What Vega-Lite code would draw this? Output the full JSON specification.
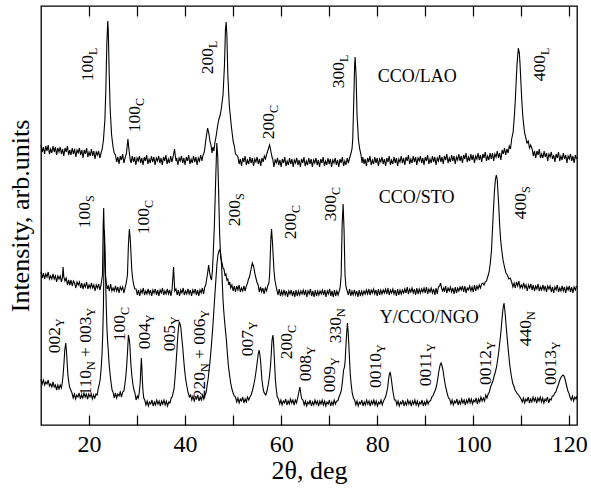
{
"$schema":"https://vega.github.io/schema/vega-lite/v6.json",
"width":536,"height":419,
"autosize":{"type":"none"},
"padding":{"left":41,"top":6,"right":14,"bottom":64},
"config":{"view":{"stroke":"black","strokeWidth":1.3},"font":"Liberation Serif"},
"datasets":{
"a":[{"x":10,"y":280},{"x":10.25,"y":273},{"x":10.5,"y":278},{"x":10.75,"y":271},{"x":11,"y":279},{"x":11.25,"y":274},{"x":11.5,"y":280},{"x":11.75,"y":271},{"x":12,"y":276},{"x":12.25,"y":272},{"x":12.5,"y":279},{"x":12.75,"y":273},{"x":13,"y":278},{"x":13.25,"y":270},{"x":13.5,"y":277},{"x":13.75,"y":273},{"x":14,"y":278},{"x":14.25,"y":271},{"x":14.5,"y":276},{"x":14.75,"y":269},{"x":15,"y":277},{"x":15.25,"y":273},{"x":15.5,"y":279},{"x":15.75,"y":270},{"x":16,"y":275},{"x":16.25,"y":270},{"x":16.5,"y":277},{"x":16.75,"y":271},{"x":17,"y":276},{"x":17.25,"y":268},{"x":17.5,"y":275},{"x":17.75,"y":272},{"x":18,"y":277},{"x":18.25,"y":270},{"x":18.5,"y":275},{"x":18.75,"y":267},{"x":19,"y":275},{"x":19.25,"y":271},{"x":19.5,"y":277},{"x":19.75,"y":268},{"x":20,"y":273},{"x":20.25,"y":269},{"x":20.5,"y":276},{"x":20.75,"y":269},{"x":21,"y":274},{"x":21.25,"y":266},{"x":21.5,"y":273},{"x":21.75,"y":270},{"x":22,"y":274},{"x":22.25,"y":267},{"x":22.5,"y":272},{"x":22.75,"y":276},{"x":23,"y":285},{"x":23.3,"y":305},{"x":23.5,"y":335},{"x":23.7,"y":380},{"x":23.9,"y":404},{"x":24,"y":396},{"x":24.2,"y":352},{"x":24.4,"y":316},{"x":24.7,"y":290},{"x":25,"y":278},{"x":25.25,"y":272},{"x":25.5,"y":270},{"x":25.75,"y":263},{"x":26,"y":268},{"x":26.25,"y":261},{"x":26.5,"y":269},{"x":26.75,"y":265},{"x":27,"y":271},{"x":27.25,"y":262},{"x":27.5,"y":267},{"x":27.8,"y":272},{"x":28.1,"y":286},{"x":28.3,"y":276},{"x":28.55,"y":266},{"x":28.75,"y":262},{"x":29,"y":269},{"x":29.25,"y":263},{"x":29.5,"y":268},{"x":29.75,"y":260},{"x":30,"y":267},{"x":30.25,"y":264},{"x":30.5,"y":269},{"x":30.75,"y":262},{"x":31,"y":267},{"x":31.25,"y":260},{"x":31.5,"y":268},{"x":31.75,"y":264},{"x":32,"y":270},{"x":32.25,"y":261},{"x":32.5,"y":266},{"x":32.75,"y":262},{"x":33,"y":269},{"x":33.25,"y":263},{"x":33.5,"y":268},{"x":33.75,"y":260},{"x":34,"y":267},{"x":34.25,"y":264},{"x":34.5,"y":269},{"x":34.75,"y":262},{"x":35,"y":267},{"x":35.25,"y":260},{"x":35.5,"y":268},{"x":35.75,"y":264},{"x":36,"y":270},{"x":36.25,"y":261},{"x":36.5,"y":266},{"x":36.75,"y":262},{"x":37,"y":269},{"x":37.25,"y":263},{"x":37.5,"y":268},{"x":37.8,"y":276},{"x":38.1,"y":264},{"x":38.25,"y":267},{"x":38.5,"y":260},{"x":38.75,"y":267},{"x":39,"y":264},{"x":39.25,"y":269},{"x":39.5,"y":262},{"x":39.75,"y":267},{"x":40,"y":260},{"x":40.25,"y":268},{"x":40.5,"y":264},{"x":40.75,"y":270},{"x":41,"y":261},{"x":41.25,"y":266},{"x":41.5,"y":262},{"x":41.75,"y":269},{"x":42,"y":263},{"x":42.25,"y":268},{"x":42.5,"y":260},{"x":42.75,"y":267},{"x":43,"y":264},{"x":43.25,"y":270},{"x":43.5,"y":264},{"x":43.75,"y":270},{"x":44,"y":273},{"x":44.4,"y":288},{"x":44.7,"y":297},{"x":45,"y":290},{"x":45.2,"y":283},{"x":45.4,"y":280},{"x":45.6,"y":272},{"x":45.8,"y":278},{"x":46,"y":274},{"x":46.2,"y":282},{"x":46.5,"y":290},{"x":46.8,"y":300},{"x":47,"y":305},{"x":47.3,"y":310},{"x":47.5,"y":315},{"x":47.9,"y":330},{"x":48.2,"y":360},{"x":48.4,"y":395},{"x":48.55,"y":403},{"x":48.7,"y":390},{"x":48.9,"y":350},{"x":49.2,"y":320},{"x":49.6,"y":300},{"x":50,"y":284},{"x":50.25,"y":279},{"x":50.5,"y":271},{"x":50.75,"y":270},{"x":51,"y":268},{"x":51.25,"y":261},{"x":51.5,"y":266},{"x":51.75,"y":259},{"x":52,"y":267},{"x":52.25,"y":263},{"x":52.5,"y":269},{"x":52.75,"y":260},{"x":53,"y":265},{"x":53.25,"y":261},{"x":53.5,"y":268},{"x":53.75,"y":262},{"x":54,"y":267},{"x":54.25,"y":259},{"x":54.5,"y":266},{"x":54.75,"y":263},{"x":55,"y":268},{"x":55.25,"y":261},{"x":55.5,"y":266},{"x":55.75,"y":259},{"x":56,"y":267},{"x":56.25,"y":263},{"x":56.5,"y":269},{"x":56.75,"y":266},{"x":57,"y":271},{"x":57.2,"y":274},{"x":57.4,"y":277},{"x":57.6,"y":280},{"x":57.9,"y":273},{"x":58.1,"y":268},{"x":58.25,"y":266},{"x":58.5,"y":258},{"x":58.75,"y":265},{"x":59,"y":262},{"x":59.25,"y":267},{"x":59.5,"y":260},{"x":59.75,"y":265},{"x":60,"y":258},{"x":60.25,"y":266},{"x":60.5,"y":262},{"x":60.75,"y":268},{"x":61,"y":259},{"x":61.25,"y":264},{"x":61.5,"y":260},{"x":61.75,"y":267},{"x":62,"y":261},{"x":62.25,"y":266},{"x":62.5,"y":258},{"x":62.75,"y":265},{"x":63,"y":262},{"x":63.25,"y":267},{"x":63.5,"y":260},{"x":63.75,"y":265},{"x":64,"y":258},{"x":64.25,"y":266},{"x":64.5,"y":262},{"x":64.75,"y":268},{"x":65,"y":259},{"x":65.25,"y":264},{"x":65.5,"y":260},{"x":65.75,"y":267},{"x":66,"y":261},{"x":66.25,"y":266},{"x":66.5,"y":258},{"x":66.75,"y":265},{"x":67,"y":262},{"x":67.25,"y":267},{"x":67.5,"y":260},{"x":67.75,"y":265},{"x":68,"y":258},{"x":68.25,"y":266},{"x":68.5,"y":262},{"x":68.75,"y":268},{"x":69,"y":259},{"x":69.25,"y":264},{"x":69.5,"y":260},{"x":69.75,"y":267},{"x":70,"y":261},{"x":70.25,"y":266},{"x":70.5,"y":258},{"x":70.75,"y":265},{"x":71,"y":262},{"x":71.25,"y":267},{"x":71.5,"y":260},{"x":71.75,"y":265},{"x":72,"y":258},{"x":72.25,"y":266},{"x":72.5,"y":262},{"x":72.75,"y":268},{"x":73,"y":259},{"x":73.25,"y":264},{"x":73.5,"y":260},{"x":73.75,"y":267},{"x":74,"y":262},{"x":74.25,"y":267},{"x":74.5,"y":271},{"x":74.75,"y":276},{"x":74.9,"y":285},{"x":75.1,"y":320},{"x":75.3,"y":360},{"x":75.4,"y":368},{"x":75.6,"y":350},{"x":75.8,"y":310},{"x":76.1,"y":285},{"x":76.35,"y":276},{"x":76.6,"y":271},{"x":76.85,"y":262},{"x":77,"y":268},{"x":77.25,"y":261},{"x":77.5,"y":266},{"x":77.75,"y":259},{"x":78,"y":267},{"x":78.25,"y":263},{"x":78.5,"y":269},{"x":78.75,"y":260},{"x":79,"y":265},{"x":79.25,"y":261},{"x":79.5,"y":268},{"x":79.75,"y":262},{"x":80,"y":267},{"x":80.25,"y":259},{"x":80.5,"y":266},{"x":80.75,"y":263},{"x":81,"y":268},{"x":81.25,"y":261},{"x":81.5,"y":266},{"x":81.75,"y":259},{"x":82,"y":267},{"x":82.25,"y":263},{"x":82.5,"y":269},{"x":82.75,"y":260},{"x":83,"y":265},{"x":83.25,"y":261},{"x":83.5,"y":268},{"x":83.75,"y":262},{"x":84,"y":267},{"x":84.25,"y":259},{"x":84.5,"y":266},{"x":84.75,"y":263},{"x":85,"y":269},{"x":85.25,"y":262},{"x":85.5,"y":267},{"x":85.75,"y":260},{"x":86,"y":268},{"x":86.25,"y":264},{"x":86.5,"y":270},{"x":86.75,"y":261},{"x":87,"y":266},{"x":87.25,"y":262},{"x":87.5,"y":269},{"x":87.75,"y":263},{"x":88,"y":268},{"x":88.25,"y":260},{"x":88.5,"y":267},{"x":88.75,"y":264},{"x":89,"y":269},{"x":89.25,"y":262},{"x":89.5,"y":267},{"x":89.75,"y":260},{"x":90,"y":268},{"x":90.25,"y":264},{"x":90.5,"y":270},{"x":90.75,"y":261},{"x":91,"y":266},{"x":91.25,"y":262},{"x":91.5,"y":269},{"x":91.75,"y":263},{"x":92,"y":268},{"x":92.25,"y":260},{"x":92.5,"y":267},{"x":92.75,"y":264},{"x":93,"y":270},{"x":93.25,"y":263},{"x":93.5,"y":268},{"x":93.75,"y":261},{"x":94,"y":269},{"x":94.25,"y":265},{"x":94.5,"y":271},{"x":94.75,"y":262},{"x":95,"y":267},{"x":95.25,"y":263},{"x":95.5,"y":270},{"x":95.75,"y":264},{"x":96,"y":269},{"x":96.25,"y":261},{"x":96.5,"y":268},{"x":96.75,"y":265},{"x":97,"y":271},{"x":97.25,"y":264},{"x":97.5,"y":269},{"x":97.75,"y":262},{"x":98,"y":270},{"x":98.25,"y":266},{"x":98.5,"y":272},{"x":98.75,"y":263},{"x":99,"y":268},{"x":99.25,"y":264},{"x":99.5,"y":271},{"x":99.75,"y":265},{"x":100,"y":270},{"x":100.25,"y":262},{"x":100.5,"y":269},{"x":100.75,"y":266},{"x":101,"y":272},{"x":101.25,"y":265},{"x":101.5,"y":270},{"x":101.75,"y":263},{"x":102,"y":271},{"x":102.25,"y":267},{"x":102.5,"y":273},{"x":102.75,"y":264},{"x":103,"y":269},{"x":103.25,"y":265},{"x":103.5,"y":272},{"x":103.75,"y":266},{"x":104,"y":272},{"x":104.25,"y":264},{"x":104.5,"y":271},{"x":104.75,"y":268},{"x":105,"y":274},{"x":105.25,"y":267},{"x":105.5,"y":272},{"x":105.75,"y":265},{"x":106,"y":275},{"x":106.25,"y":271},{"x":106.5,"y":277},{"x":106.75,"y":270},{"x":107,"y":276},{"x":107.25,"y":272},{"x":107.5,"y":279},{"x":107.75,"y":276},{"x":108,"y":286},{"x":108.3,"y":293},{"x":108.5,"y":305},{"x":108.7,"y":320},{"x":108.9,"y":340},{"x":109.1,"y":360},{"x":109.3,"y":372},{"x":109.4,"y":377},{"x":109.5,"y":374},{"x":109.6,"y":372},{"x":109.75,"y":360},{"x":109.9,"y":345},{"x":110.1,"y":325},{"x":110.3,"y":310},{"x":110.5,"y":300},{"x":110.7,"y":292},{"x":110.95,"y":287},{"x":111.2,"y":282},{"x":111.45,"y":284},{"x":111.7,"y":277},{"x":111.95,"y":280},{"x":112.25,"y":276},{"x":112.5,"y":269},{"x":112.75,"y":274},{"x":113,"y":267},{"x":113.25,"y":274},{"x":113.5,"y":270},{"x":113.75,"y":276},{"x":114,"y":267},{"x":114.25,"y":271},{"x":114.5,"y":267},{"x":114.75,"y":274},{"x":115,"y":268},{"x":115.25,"y":272},{"x":115.5,"y":264},{"x":115.75,"y":271},{"x":116,"y":268},{"x":116.25,"y":273},{"x":116.5,"y":266},{"x":116.75,"y":270},{"x":117,"y":263},{"x":117.25,"y":271},{"x":117.5,"y":267},{"x":117.75,"y":273},{"x":118,"y":264},{"x":118.25,"y":269},{"x":118.5,"y":265},{"x":118.75,"y":272},{"x":119,"y":266},{"x":119.25,"y":270},{"x":119.5,"y":262},{"x":119.75,"y":269},{"x":120,"y":266},{"x":120.25,"y":271},{"x":120.5,"y":264},{"x":120.75,"y":269},{"x":121,"y":262},{"x":121.25,"y":270},{"x":121.5,"y":266}],
"b":[{"x":10,"y":153},{"x":10.25,"y":147},{"x":10.5,"y":152},{"x":10.75,"y":146},{"x":11,"y":151},{"x":11.25,"y":148},{"x":11.5,"y":153},{"x":11.75,"y":146},{"x":12,"y":149},{"x":12.25,"y":146},{"x":12.5,"y":151},{"x":12.75,"y":146},{"x":13,"y":149},{"x":13.25,"y":143},{"x":13.5,"y":149},{"x":13.75,"y":146},{"x":14,"y":149},{"x":14.25,"y":143},{"x":14.45,"y":147},{"x":14.6,"y":158},{"x":14.75,"y":148},{"x":15,"y":144},{"x":15.25,"y":147},{"x":15.5,"y":140},{"x":15.75,"y":145},{"x":16,"y":140},{"x":16.25,"y":145},{"x":16.5,"y":139},{"x":16.75,"y":144},{"x":17,"y":142},{"x":17.25,"y":137},{"x":17.5,"y":143},{"x":17.75,"y":140},{"x":18,"y":143},{"x":18.25,"y":137},{"x":18.5,"y":142},{"x":18.75,"y":136},{"x":19,"y":141},{"x":19.25,"y":138},{"x":19.5,"y":143},{"x":19.75,"y":136},{"x":20,"y":140},{"x":20.25,"y":137},{"x":20.5,"y":142},{"x":20.75,"y":137},{"x":21,"y":140},{"x":21.25,"y":134},{"x":21.5,"y":140},{"x":21.75,"y":137},{"x":22,"y":141},{"x":22.25,"y":135},{"x":22.5,"y":140},{"x":22.8,"y":150},{"x":22.95,"y":200},{"x":23.05,"y":217},{"x":23.2,"y":185},{"x":23.4,"y":150},{"x":23.6,"y":142},{"x":23.8,"y":136},{"x":24,"y":139},{"x":24.25,"y":134},{"x":24.5,"y":141},{"x":24.75,"y":134},{"x":25,"y":137},{"x":25.25,"y":134},{"x":25.5,"y":139},{"x":25.75,"y":134},{"x":26,"y":138},{"x":26.25,"y":132},{"x":26.5,"y":138},{"x":26.75,"y":135},{"x":27,"y":138},{"x":27.25,"y":132},{"x":27.5,"y":137},{"x":27.75,"y":142},{"x":28,"y":150},{"x":28.2,"y":180},{"x":28.4,"y":196},{"x":28.6,"y":185},{"x":28.9,"y":155},{"x":29.1,"y":146},{"x":29.3,"y":140},{"x":29.55,"y":136},{"x":29.8,"y":136},{"x":30.05,"y":130},{"x":30.3,"y":135},{"x":30.55,"y":129},{"x":30.8,"y":135},{"x":31.05,"y":132},{"x":31.3,"y":137},{"x":31.55,"y":130},{"x":31.8,"y":134},{"x":32.05,"y":131},{"x":32.3,"y":136},{"x":32.55,"y":131},{"x":32.8,"y":135},{"x":33.05,"y":129},{"x":33.3,"y":135},{"x":33.55,"y":132},{"x":33.8,"y":136},{"x":34.05,"y":130},{"x":34.3,"y":135},{"x":34.55,"y":129},{"x":34.8,"y":135},{"x":35.05,"y":132},{"x":35.3,"y":137},{"x":35.55,"y":130},{"x":35.8,"y":134},{"x":36.05,"y":131},{"x":36.3,"y":136},{"x":36.55,"y":131},{"x":36.8,"y":135},{"x":37.05,"y":129},{"x":37.3,"y":136},{"x":37.6,"y":158},{"x":37.85,"y":134},{"x":38.1,"y":136},{"x":38.35,"y":130},{"x":38.6,"y":135},{"x":38.85,"y":129},{"x":39.1,"y":135},{"x":39.35,"y":132},{"x":39.6,"y":137},{"x":39.85,"y":130},{"x":40.1,"y":134},{"x":40.35,"y":131},{"x":40.6,"y":136},{"x":40.85,"y":131},{"x":41.1,"y":135},{"x":41.35,"y":129},{"x":41.6,"y":135},{"x":41.85,"y":132},{"x":42.1,"y":136},{"x":42.35,"y":130},{"x":42.6,"y":135},{"x":42.85,"y":129},{"x":43.1,"y":135},{"x":43.35,"y":132},{"x":43.6,"y":137},{"x":43.85,"y":131},{"x":44.1,"y":138},{"x":44.3,"y":140},{"x":44.5,"y":146},{"x":44.7,"y":152},{"x":44.9,"y":160},{"x":45.1,"y":153},{"x":45.3,"y":148},{"x":45.5,"y":145},{"x":45.7,"y":155},{"x":45.85,"y":170},{"x":46.1,"y":200},{"x":46.4,"y":250},{"x":46.6,"y":282},{"x":46.8,"y":268},{"x":47,"y":230},{"x":47.2,"y":190},{"x":47.4,"y":168},{"x":47.7,"y":162},{"x":47.9,"y":157},{"x":48.1,"y":156},{"x":48.3,"y":150},{"x":48.5,"y":151},{"x":48.7,"y":145},{"x":48.9,"y":146},{"x":49.1,"y":140},{"x":49.3,"y":143},{"x":49.5,"y":137},{"x":49.75,"y":140},{"x":50,"y":134},{"x":50.25,"y":139},{"x":50.5,"y":133},{"x":50.75,"y":139},{"x":51,"y":135},{"x":51.25,"y":140},{"x":51.5,"y":133},{"x":51.75,"y":137},{"x":52,"y":134},{"x":52.25,"y":139},{"x":52.5,"y":134},{"x":52.75,"y":139},{"x":53,"y":142},{"x":53.2,"y":146},{"x":53.4,"y":148},{"x":53.7,"y":155},{"x":54,"y":162},{"x":54.3,"y":158},{"x":54.5,"y":152},{"x":54.7,"y":148},{"x":54.95,"y":143},{"x":55.2,"y":140},{"x":55.45,"y":133},{"x":55.7,"y":138},{"x":55.95,"y":133},{"x":56.2,"y":137},{"x":56.45,"y":131},{"x":56.7,"y":137},{"x":56.95,"y":134},{"x":57.2,"y":139},{"x":57.45,"y":142},{"x":57.6,"y":150},{"x":57.85,"y":185},{"x":58,"y":196},{"x":58.2,"y":182},{"x":58.5,"y":155},{"x":58.7,"y":145},{"x":58.9,"y":140},{"x":59.1,"y":135},{"x":59.35,"y":130},{"x":59.6,"y":136},{"x":59.85,"y":129},{"x":60.1,"y":134},{"x":60.35,"y":130},{"x":60.6,"y":135},{"x":60.85,"y":130},{"x":61.1,"y":134},{"x":61.35,"y":128},{"x":61.6,"y":134},{"x":61.85,"y":131},{"x":62.1,"y":135},{"x":62.35,"y":129},{"x":62.6,"y":134},{"x":62.85,"y":128},{"x":63.1,"y":135},{"x":63.35,"y":129},{"x":63.6,"y":134},{"x":63.85,"y":130},{"x":64.1,"y":134},{"x":64.35,"y":131},{"x":64.6,"y":135},{"x":64.85,"y":130},{"x":65.1,"y":135},{"x":65.35,"y":128},{"x":65.6,"y":134},{"x":65.85,"y":131},{"x":66.1,"y":136},{"x":66.35,"y":129},{"x":66.6,"y":134},{"x":66.85,"y":128},{"x":67.1,"y":135},{"x":67.35,"y":129},{"x":67.6,"y":134},{"x":67.85,"y":130},{"x":68.1,"y":134},{"x":68.35,"y":131},{"x":68.6,"y":135},{"x":68.85,"y":130},{"x":69.1,"y":135},{"x":69.35,"y":128},{"x":69.6,"y":134},{"x":69.85,"y":131},{"x":70.1,"y":136},{"x":70.35,"y":129},{"x":70.6,"y":134},{"x":70.85,"y":128},{"x":71.1,"y":135},{"x":71.35,"y":129},{"x":71.6,"y":134},{"x":71.85,"y":130},{"x":72.1,"y":134},{"x":72.3,"y":138},{"x":72.5,"y":150},{"x":72.7,"y":200},{"x":72.9,"y":221},{"x":73.1,"y":195},{"x":73.3,"y":150},{"x":73.5,"y":138},{"x":73.75,"y":134},{"x":74,"y":130},{"x":74.25,"y":136},{"x":74.5,"y":129},{"x":74.75,"y":134},{"x":75,"y":130},{"x":75.25,"y":135},{"x":75.5,"y":130},{"x":75.75,"y":134},{"x":76,"y":128},{"x":76.25,"y":135},{"x":76.5,"y":129},{"x":76.75,"y":134},{"x":77,"y":130},{"x":77.25,"y":134},{"x":77.5,"y":131},{"x":77.75,"y":135},{"x":78,"y":131},{"x":78.25,"y":136},{"x":78.5,"y":130},{"x":78.75,"y":135},{"x":79,"y":132},{"x":79.25,"y":136},{"x":79.5,"y":131},{"x":79.75,"y":135},{"x":80,"y":129},{"x":80.25,"y":136},{"x":80.5,"y":130},{"x":80.75,"y":135},{"x":81,"y":131},{"x":81.25,"y":135},{"x":81.5,"y":132},{"x":81.75,"y":136},{"x":82,"y":131},{"x":82.25,"y":137},{"x":82.5,"y":130},{"x":82.75,"y":135},{"x":83,"y":132},{"x":83.25,"y":136},{"x":83.5,"y":131},{"x":83.75,"y":135},{"x":84,"y":129},{"x":84.25,"y":136},{"x":84.5,"y":130},{"x":84.75,"y":135},{"x":85,"y":131},{"x":85.25,"y":135},{"x":85.5,"y":132},{"x":85.75,"y":136},{"x":86,"y":132},{"x":86.25,"y":138},{"x":86.5,"y":131},{"x":86.75,"y":136},{"x":87,"y":133},{"x":87.25,"y":137},{"x":87.5,"y":132},{"x":87.75,"y":136},{"x":88,"y":130},{"x":88.25,"y":137},{"x":88.5,"y":131},{"x":88.75,"y":136},{"x":89,"y":132},{"x":89.25,"y":136},{"x":89.5,"y":133},{"x":89.75,"y":137},{"x":90,"y":132},{"x":90.25,"y":138},{"x":90.5,"y":131},{"x":90.75,"y":136},{"x":91,"y":133},{"x":91.25,"y":137},{"x":91.5,"y":132},{"x":91.75,"y":136},{"x":92,"y":130},{"x":92.25,"y":137},{"x":92.5,"y":131},{"x":92.75,"y":138},{"x":93,"y":139},{"x":93.2,"y":142},{"x":93.4,"y":137},{"x":93.6,"y":134},{"x":93.85,"y":137},{"x":94,"y":133},{"x":94.25,"y":139},{"x":94.5,"y":132},{"x":94.75,"y":137},{"x":95,"y":134},{"x":95.25,"y":138},{"x":95.5,"y":133},{"x":95.75,"y":137},{"x":96,"y":131},{"x":96.25,"y":138},{"x":96.5,"y":132},{"x":96.75,"y":137},{"x":97,"y":134},{"x":97.25,"y":138},{"x":97.5,"y":135},{"x":97.75,"y":139},{"x":98,"y":133},{"x":98.25,"y":139},{"x":98.5,"y":132},{"x":98.75,"y":137},{"x":99,"y":135},{"x":99.25,"y":139},{"x":99.5,"y":134},{"x":99.75,"y":138},{"x":100,"y":133},{"x":100.25,"y":140},{"x":100.5,"y":134},{"x":100.75,"y":139},{"x":101,"y":136},{"x":101.25,"y":140},{"x":101.5,"y":137},{"x":101.75,"y":141},{"x":102,"y":142},{"x":102.25,"y":140},{"x":102.5,"y":143},{"x":102.75,"y":144},{"x":103,"y":148},{"x":103.3,"y":153},{"x":103.55,"y":162},{"x":103.8,"y":175},{"x":104,"y":195},{"x":104.2,"y":215},{"x":104.4,"y":233},{"x":104.6,"y":245},{"x":104.8,"y":250},{"x":105,"y":245},{"x":105.15,"y":232},{"x":105.3,"y":220},{"x":105.5,"y":200},{"x":105.7,"y":185},{"x":105.95,"y":174},{"x":106.2,"y":165},{"x":106.5,"y":158},{"x":106.8,"y":152},{"x":107.1,"y":150},{"x":107.4,"y":146},{"x":107.7,"y":147},{"x":108,"y":143},{"x":108.25,"y":138},{"x":108.5,"y":142},{"x":108.75,"y":137},{"x":109,"y":143},{"x":109.25,"y":139},{"x":109.5,"y":144},{"x":109.75,"y":137},{"x":110,"y":140},{"x":110.25,"y":137},{"x":110.5,"y":142},{"x":110.75,"y":137},{"x":111,"y":140},{"x":111.25,"y":134},{"x":111.5,"y":140},{"x":111.75,"y":137},{"x":112,"y":141},{"x":112.25,"y":135},{"x":112.5,"y":140},{"x":112.75,"y":134},{"x":113,"y":139},{"x":113.25,"y":136},{"x":113.5,"y":141},{"x":113.75,"y":134},{"x":114,"y":138},{"x":114.25,"y":135},{"x":114.5,"y":140},{"x":114.75,"y":135},{"x":115,"y":139},{"x":115.25,"y":133},{"x":115.5,"y":139},{"x":115.75,"y":136},{"x":116,"y":139},{"x":116.25,"y":133},{"x":116.5,"y":138},{"x":116.75,"y":132},{"x":117,"y":138},{"x":117.25,"y":135},{"x":117.5,"y":140},{"x":117.75,"y":133},{"x":118,"y":137},{"x":118.25,"y":134},{"x":118.5,"y":139},{"x":118.75,"y":134},{"x":119,"y":138},{"x":119.25,"y":132},{"x":119.5,"y":138},{"x":119.75,"y":135},{"x":120,"y":139},{"x":120.25,"y":133},{"x":120.5,"y":138},{"x":120.75,"y":132},{"x":121,"y":138},{"x":121.25,"y":135},{"x":121.5,"y":139}],
"c":[{"x":10,"y":46},{"x":10.25,"y":41},{"x":10.5,"y":45},{"x":10.75,"y":40},{"x":11,"y":43},{"x":11.25,"y":41},{"x":11.5,"y":45},{"x":11.75,"y":39},{"x":12,"y":41},{"x":12.25,"y":38},{"x":12.5,"y":43},{"x":12.75,"y":38},{"x":13,"y":40},{"x":13.25,"y":35},{"x":13.5,"y":40},{"x":13.75,"y":36},{"x":14,"y":40},{"x":14.25,"y":37},{"x":14.45,"y":43},{"x":14.6,"y":50},{"x":14.8,"y":63},{"x":14.95,"y":75},{"x":15.15,"y":82},{"x":15.3,"y":74},{"x":15.45,"y":62},{"x":15.6,"y":50},{"x":15.75,"y":44},{"x":15.95,"y":38},{"x":16.2,"y":35},{"x":16.45,"y":32},{"x":16.7,"y":27},{"x":16.95,"y":31},{"x":17.2,"y":26},{"x":17.45,"y":30},{"x":17.7,"y":28},{"x":17.95,"y":32},{"x":18.2,"y":26},{"x":18.45,"y":30},{"x":18.7,"y":27},{"x":18.95,"y":32},{"x":19.2,"y":28},{"x":19.45,"y":31},{"x":19.7,"y":26},{"x":19.95,"y":31},{"x":20.2,"y":28},{"x":20.45,"y":31},{"x":20.7,"y":26},{"x":20.95,"y":30},{"x":21.2,"y":27},{"x":21.45,"y":31},{"x":21.7,"y":30},{"x":21.9,"y":36},{"x":22.1,"y":40},{"x":22.3,"y":45},{"x":22.5,"y":55},{"x":22.7,"y":70},{"x":22.85,"y":90},{"x":23,"y":120},{"x":23.1,"y":160},{"x":23.2,"y":195},{"x":23.3,"y":180},{"x":23.4,"y":160},{"x":23.55,"y":125},{"x":23.7,"y":100},{"x":23.85,"y":85},{"x":24,"y":75},{"x":24.2,"y":60},{"x":24.4,"y":50},{"x":24.6,"y":42},{"x":24.8,"y":35},{"x":25,"y":33},{"x":25.25,"y":27},{"x":25.5,"y":32},{"x":25.75,"y":27},{"x":26,"y":31},{"x":26.25,"y":29},{"x":26.5,"y":33},{"x":26.75,"y":28},{"x":27,"y":33},{"x":27.25,"y":34},{"x":27.45,"y":40},{"x":27.65,"y":48},{"x":27.85,"y":60},{"x":28,"y":72},{"x":28.2,"y":90},{"x":28.35,"y":86},{"x":28.5,"y":80},{"x":28.7,"y":62},{"x":28.9,"y":50},{"x":29.1,"y":42},{"x":29.3,"y":36},{"x":29.55,"y":32},{"x":29.8,"y":25},{"x":30.05,"y":29},{"x":30.25,"y":27},{"x":30.45,"y":32},{"x":30.65,"y":42},{"x":30.8,"y":58},{"x":30.9,"y":67},{"x":31,"y":58},{"x":31.1,"y":45},{"x":31.25,"y":33},{"x":31.4,"y":27},{"x":31.6,"y":25},{"x":31.85,"y":20},{"x":32.1,"y":24},{"x":32.35,"y":19},{"x":32.6,"y":23},{"x":32.85,"y":21},{"x":33.1,"y":25},{"x":33.35,"y":19},{"x":33.6,"y":23},{"x":33.85,"y":20},{"x":34.1,"y":25},{"x":34.35,"y":21},{"x":34.6,"y":24},{"x":34.85,"y":19},{"x":35.1,"y":24},{"x":35.35,"y":21},{"x":35.6,"y":25},{"x":35.85,"y":20},{"x":36.1,"y":24},{"x":36.35,"y":19},{"x":36.6,"y":23},{"x":36.85,"y":22},{"x":37.1,"y":27},{"x":37.3,"y":28},{"x":37.5,"y":32},{"x":37.7,"y":36},{"x":37.9,"y":47},{"x":38.1,"y":60},{"x":38.3,"y":75},{"x":38.5,"y":90},{"x":38.65,"y":98},{"x":38.8,"y":103},{"x":38.95,"y":101},{"x":39.1,"y":98},{"x":39.3,"y":88},{"x":39.5,"y":78},{"x":39.7,"y":66},{"x":39.9,"y":55},{"x":40.15,"y":45},{"x":40.4,"y":38},{"x":40.65,"y":32},{"x":40.9,"y":28},{"x":41.15,"y":30},{"x":41.4,"y":25},{"x":41.65,"y":29},{"x":41.9,"y":24},{"x":42.15,"y":28},{"x":42.4,"y":26},{"x":42.65,"y":30},{"x":42.9,"y":24},{"x":43.15,"y":28},{"x":43.4,"y":25},{"x":43.65,"y":30},{"x":43.9,"y":26},{"x":44.15,"y":30},{"x":44.4,"y":33},{"x":44.6,"y":40},{"x":44.8,"y":46},{"x":45,"y":55},{"x":45.2,"y":64},{"x":45.4,"y":75},{"x":45.6,"y":87},{"x":45.8,"y":100},{"x":46,"y":115},{"x":46.2,"y":130},{"x":46.45,"y":148},{"x":46.65,"y":162},{"x":46.85,"y":170},{"x":47.05,"y":174},{"x":47.2,"y":175},{"x":47.4,"y":172},{"x":47.6,"y":160},{"x":47.75,"y":142},{"x":47.9,"y":125},{"x":48.05,"y":114},{"x":48.2,"y":105},{"x":48.4,"y":95},{"x":48.6,"y":85},{"x":48.8,"y":72},{"x":49,"y":60},{"x":49.25,"y":50},{"x":49.5,"y":42},{"x":49.75,"y":36},{"x":50,"y":32},{"x":50.25,"y":29},{"x":50.5,"y":28},{"x":50.75,"y":23},{"x":51,"y":27},{"x":51.25,"y":22},{"x":51.5,"y":26},{"x":51.75,"y":24},{"x":52,"y":28},{"x":52.25,"y":22},{"x":52.5,"y":26},{"x":52.75,"y":23},{"x":53,"y":28},{"x":53.25,"y":25},{"x":53.5,"y":28},{"x":53.75,"y":30},{"x":54,"y":34},{"x":54.25,"y":39},{"x":54.5,"y":45},{"x":54.75,"y":53},{"x":55,"y":62},{"x":55.2,"y":70},{"x":55.4,"y":75},{"x":55.55,"y":71},{"x":55.7,"y":65},{"x":55.85,"y":55},{"x":56,"y":45},{"x":56.2,"y":38},{"x":56.4,"y":33},{"x":56.6,"y":31},{"x":56.8,"y":30},{"x":57.05,"y":34},{"x":57.3,"y":40},{"x":57.55,"y":48},{"x":57.8,"y":60},{"x":57.95,"y":72},{"x":58.1,"y":85},{"x":58.3,"y":90},{"x":58.4,"y":84},{"x":58.5,"y":75},{"x":58.65,"y":60},{"x":58.8,"y":45},{"x":59,"y":35},{"x":59.2,"y":28},{"x":59.45,"y":26},{"x":59.7,"y":21},{"x":59.95,"y":25},{"x":60.2,"y":20},{"x":60.45,"y":24},{"x":60.7,"y":22},{"x":60.95,"y":26},{"x":61.2,"y":20},{"x":61.45,"y":24},{"x":61.7,"y":21},{"x":61.95,"y":26},{"x":62.2,"y":22},{"x":62.45,"y":25},{"x":62.7,"y":20},{"x":62.95,"y":25},{"x":63.2,"y":22},{"x":63.45,"y":27},{"x":63.65,"y":32},{"x":63.9,"y":38},{"x":64.1,"y":31},{"x":64.3,"y":26},{"x":64.55,"y":25},{"x":64.8,"y":20},{"x":65.05,"y":24},{"x":65.3,"y":19},{"x":65.55,"y":23},{"x":65.8,"y":21},{"x":66.05,"y":25},{"x":66.3,"y":19},{"x":66.55,"y":23},{"x":66.8,"y":20},{"x":67.05,"y":25},{"x":67.3,"y":21},{"x":67.55,"y":24},{"x":67.8,"y":19},{"x":68.05,"y":24},{"x":68.3,"y":21},{"x":68.55,"y":25},{"x":68.8,"y":20},{"x":69.05,"y":24},{"x":69.3,"y":19},{"x":69.55,"y":23},{"x":69.8,"y":21},{"x":70.05,"y":25},{"x":70.3,"y":19},{"x":70.55,"y":23},{"x":70.8,"y":20},{"x":71.05,"y":25},{"x":71.3,"y":21},{"x":71.55,"y":24},{"x":71.8,"y":24},{"x":72.05,"y":28},{"x":72.3,"y":31},{"x":72.55,"y":35},{"x":72.8,"y":45},{"x":73,"y":55},{"x":73.2,"y":58},{"x":73.35,"y":66},{"x":73.5,"y":80},{"x":73.65,"y":92},{"x":73.8,"y":102},{"x":73.95,"y":93},{"x":74.1,"y":80},{"x":74.25,"y":64},{"x":74.4,"y":50},{"x":74.6,"y":40},{"x":74.8,"y":32},{"x":75.05,"y":27},{"x":75.3,"y":25},{"x":75.55,"y":20},{"x":75.8,"y":24},{"x":76.05,"y":19},{"x":76.3,"y":23},{"x":76.55,"y":21},{"x":76.8,"y":25},{"x":77.05,"y":19},{"x":77.3,"y":23},{"x":77.55,"y":20},{"x":77.8,"y":25},{"x":78.05,"y":21},{"x":78.3,"y":24},{"x":78.55,"y":19},{"x":78.8,"y":24},{"x":79.05,"y":21},{"x":79.3,"y":25},{"x":79.55,"y":20},{"x":79.8,"y":24},{"x":80.05,"y":19},{"x":80.3,"y":23},{"x":80.55,"y":21},{"x":80.8,"y":25},{"x":81.05,"y":20},{"x":81.3,"y":24},{"x":81.55,"y":26},{"x":81.8,"y":29},{"x":82,"y":33},{"x":82.2,"y":38},{"x":82.35,"y":45},{"x":82.5,"y":50},{"x":82.7,"y":53},{"x":82.85,"y":49},{"x":83,"y":44},{"x":83.2,"y":36},{"x":83.4,"y":30},{"x":83.6,"y":25},{"x":83.85,"y":25},{"x":84.1,"y":20},{"x":84.35,"y":24},{"x":84.6,"y":19},{"x":84.85,"y":23},{"x":85.1,"y":21},{"x":85.35,"y":25},{"x":85.6,"y":19},{"x":85.85,"y":23},{"x":86.1,"y":20},{"x":86.35,"y":25},{"x":86.6,"y":21},{"x":86.85,"y":24},{"x":87.1,"y":19},{"x":87.35,"y":24},{"x":87.6,"y":21},{"x":87.85,"y":25},{"x":88.1,"y":20},{"x":88.35,"y":24},{"x":88.6,"y":19},{"x":88.85,"y":23},{"x":89.1,"y":21},{"x":89.35,"y":25},{"x":89.6,"y":19},{"x":89.85,"y":23},{"x":90.1,"y":20},{"x":90.35,"y":25},{"x":90.6,"y":21},{"x":90.85,"y":24},{"x":91.1,"y":24},{"x":91.35,"y":28},{"x":91.6,"y":29},{"x":91.85,"y":32},{"x":92.1,"y":35},{"x":92.35,"y":39},{"x":92.6,"y":46},{"x":92.85,"y":54},{"x":93.1,"y":60},{"x":93.3,"y":62},{"x":93.5,"y":59},{"x":93.7,"y":55},{"x":93.9,"y":48},{"x":94.1,"y":42},{"x":94.35,"y":36},{"x":94.6,"y":31},{"x":94.85,"y":27},{"x":95.1,"y":26},{"x":95.35,"y":21},{"x":95.6,"y":25},{"x":95.85,"y":20},{"x":96.1,"y":24},{"x":96.35,"y":22},{"x":96.6,"y":26},{"x":96.85,"y":20},{"x":97.1,"y":24},{"x":97.35,"y":21},{"x":97.6,"y":26},{"x":97.85,"y":22},{"x":98.1,"y":25},{"x":98.35,"y":20},{"x":98.6,"y":25},{"x":98.85,"y":22},{"x":99.1,"y":27},{"x":99.35,"y":22},{"x":99.6,"y":26},{"x":99.85,"y":21},{"x":100.1,"y":25},{"x":100.35,"y":23},{"x":100.6,"y":27},{"x":100.85,"y":21},{"x":101.1,"y":26},{"x":101.35,"y":23},{"x":101.6,"y":28},{"x":101.85,"y":24},{"x":102.1,"y":27},{"x":102.35,"y":24},{"x":102.6,"y":30},{"x":102.85,"y":27},{"x":103.1,"y":31},{"x":103.35,"y":33},{"x":103.6,"y":38},{"x":103.85,"y":41},{"x":104.1,"y":44},{"x":104.35,"y":49},{"x":104.6,"y":53},{"x":104.85,"y":58},{"x":105.1,"y":66},{"x":105.35,"y":75},{"x":105.6,"y":86},{"x":105.8,"y":95},{"x":105.95,"y":104},{"x":106.1,"y":112},{"x":106.25,"y":118},{"x":106.4,"y":122},{"x":106.55,"y":116},{"x":106.7,"y":108},{"x":106.9,"y":96},{"x":107.1,"y":85},{"x":107.35,"y":72},{"x":107.6,"y":60},{"x":107.9,"y":50},{"x":108.2,"y":42},{"x":108.45,"y":39},{"x":108.7,"y":35},{"x":108.95,"y":33},{"x":109.2,"y":31},{"x":109.45,"y":30},{"x":109.7,"y":28},{"x":109.95,"y":26},{"x":110.2,"y":23},{"x":110.45,"y":27},{"x":110.7,"y":22},{"x":110.95,"y":26},{"x":111.2,"y":24},{"x":111.45,"y":28},{"x":111.7,"y":22},{"x":111.95,"y":26},{"x":112.2,"y":23},{"x":112.45,"y":28},{"x":112.7,"y":24},{"x":112.95,"y":27},{"x":113.2,"y":22},{"x":113.45,"y":27},{"x":113.7,"y":24},{"x":113.95,"y":28},{"x":114.2,"y":23},{"x":114.45,"y":27},{"x":114.7,"y":22},{"x":114.95,"y":26},{"x":115.2,"y":24},{"x":115.45,"y":28},{"x":115.7,"y":22},{"x":115.95,"y":26},{"x":116.2,"y":25},{"x":116.45,"y":29},{"x":116.7,"y":29},{"x":116.95,"y":32},{"x":117.2,"y":33},{"x":117.45,"y":37},{"x":117.7,"y":40},{"x":117.95,"y":44},{"x":118.2,"y":47},{"x":118.45,"y":49},{"x":118.7,"y":50},{"x":118.9,"y":49},{"x":119.1,"y":46},{"x":119.3,"y":42},{"x":119.5,"y":38},{"x":119.7,"y":34},{"x":119.9,"y":32},{"x":120.15,"y":28},{"x":120.4,"y":25},{"x":120.65,"y":29},{"x":120.9,"y":24},{"x":121.15,"y":28},{"x":121.4,"y":26},{"x":121.6,"y":29}],
"lab":[{"x":20.8,"y":370,"t":"100","s":"L"},{"x":30.67,"y":319,"t":"100","s":"C"},{"x":45.9,"y":377,"t":"200","s":"L"},{"x":58.6,"y":312,"t":"200","s":"C"},{"x":73.1,"y":363,"t":"300","s":"L"},{"x":114.9,"y":370,"t":"400","s":"L"},{"x":20.2,"y":223,"t":"100","s":"S"},{"x":32.4,"y":217,"t":"100","s":"C"},{"x":51.5,"y":225,"t":"200","s":"S"},{"x":63.0,"y":212,"t":"200","s":"C"},{"x":71.4,"y":230,"t":"300","s":"C"},{"x":111.0,"y":232,"t":"400","s":"S"},{"x":13.97,"y":98,"t":"002","s":"Y"},{"x":20.45,"y":55,"t":"110","s":"N"},{"x":20.45,"y":108.6,"t":"+ 003","s":"Y"},{"x":27.5,"y":110,"t":"100","s":"C"},{"x":32.75,"y":102,"t":"004","s":"Y"},{"x":37.8,"y":100,"t":"005","s":"Y"},{"x":44.2,"y":53,"t":"220","s":"N"},{"x":44.2,"y":106.6,"t":"+ 006","s":"Y"},{"x":54.1,"y":95,"t":"007","s":"Y"},{"x":62.2,"y":92,"t":"200","s":"C"},{"x":66.3,"y":70,"t":"008","s":"Y"},{"x":71.2,"y":59,"t":"009","s":"Y"},{"x":72.4,"y":108,"t":"330","s":"N"},{"x":80.8,"y":72,"t":"0010","s":"Y"},{"x":91.2,"y":73,"t":"0011","s":"Y"},{"x":103.7,"y":75,"t":"0012","s":"Y"},{"x":112.1,"y":105,"t":"440","s":"N"},{"x":117.3,"y":75,"t":"0013","s":"Y"}],
"names":[{"x":88.35,"y":343,"t":"CCO/LAO"},{"x":88.2,"y":222,"t":"CCO/STO"},{"x":90.85,"y":102,"t":"Y/CCO/NGO"}]
},
"resolve":{"axis":{"x":"independent","y":"independent"}},
"layer":[
{"data":{"name":"a"},"mark":{"type":"line","color":"black","strokeWidth":1.1},
"encoding":{
"x":{"field":"x","type":"quantitative","scale":{"domain":[10,121.6],"nice":false,"zero":false},
"axis":{"orient":"bottom","title":"2θ, deg","values":[20,30,40,50,60,70,80,90,100,110,120],"labelExpr":"datum.value % 20 === 0 ? datum.label : ''","tickSize":-10,"tickColor":"black","tickWidth":1.2,"domain":false,"grid":false,"labelFont":"Liberation Serif","labelFontSize":24,"labelColor":"black","labelPadding":17,"labelFlush":false,"labelOverlap":false,"titleFont":"Liberation Serif","titleFontSize":26,"titleFontWeight":"normal","titleColor":"black","titlePadding":1}},
"y":{"field":"y","type":"quantitative","scale":{"domain":[0,419],"nice":false,"zero":false},
"axis":{"title":"Intensity, arb.units","ticks":false,"labels":false,"domain":false,"grid":false,"minExtent":0,"titleFont":"Liberation Serif","titleFontSize":26,"titleFontWeight":"normal","titleColor":"black","titlePadding":8}}}},
{"data":{"name":"b"},"mark":{"type":"line","color":"black","strokeWidth":1.1},
"encoding":{
"x":{"field":"x","type":"quantitative","axis":{"orient":"top","title":null,"values":[20,30,40,50,60,70,80,90,100,110,120],"labels":false,"tickSize":-10,"tickColor":"black","tickWidth":1.2,"domain":false,"grid":false}},
"y":{"field":"y","type":"quantitative","axis":null}}},
{"data":{"name":"c"},"mark":{"type":"line","color":"black","strokeWidth":1.1},
"encoding":{"x":{"field":"x","type":"quantitative","axis":null},"y":{"field":"y","type":"quantitative","axis":null}}},
{"data":{"name":"lab"},"mark":{"type":"text","angle":270,"align":"right","baseline":"alphabetic","font":"Liberation Serif","fontSize":17.5,"color":"black"},
"encoding":{"x":{"field":"x","type":"quantitative","axis":null},"y":{"field":"y","type":"quantitative","axis":null},"text":{"field":"t"}}},
{"data":{"name":"lab"},"mark":{"type":"text","angle":270,"align":"left","baseline":"alphabetic","dy":4,"font":"Liberation Serif","fontSize":12,"color":"black"},
"encoding":{"x":{"field":"x","type":"quantitative","axis":null},"y":{"field":"y","type":"quantitative","axis":null},"text":{"field":"s"}}},
{"data":{"name":"names"},"mark":{"type":"text","align":"center","baseline":"alphabetic","font":"Liberation Serif","fontSize":18,"color":"black"},
"encoding":{"x":{"field":"x","type":"quantitative","axis":null},"y":{"field":"y","type":"quantitative","axis":null},"text":{"field":"t"}}}
]
}
